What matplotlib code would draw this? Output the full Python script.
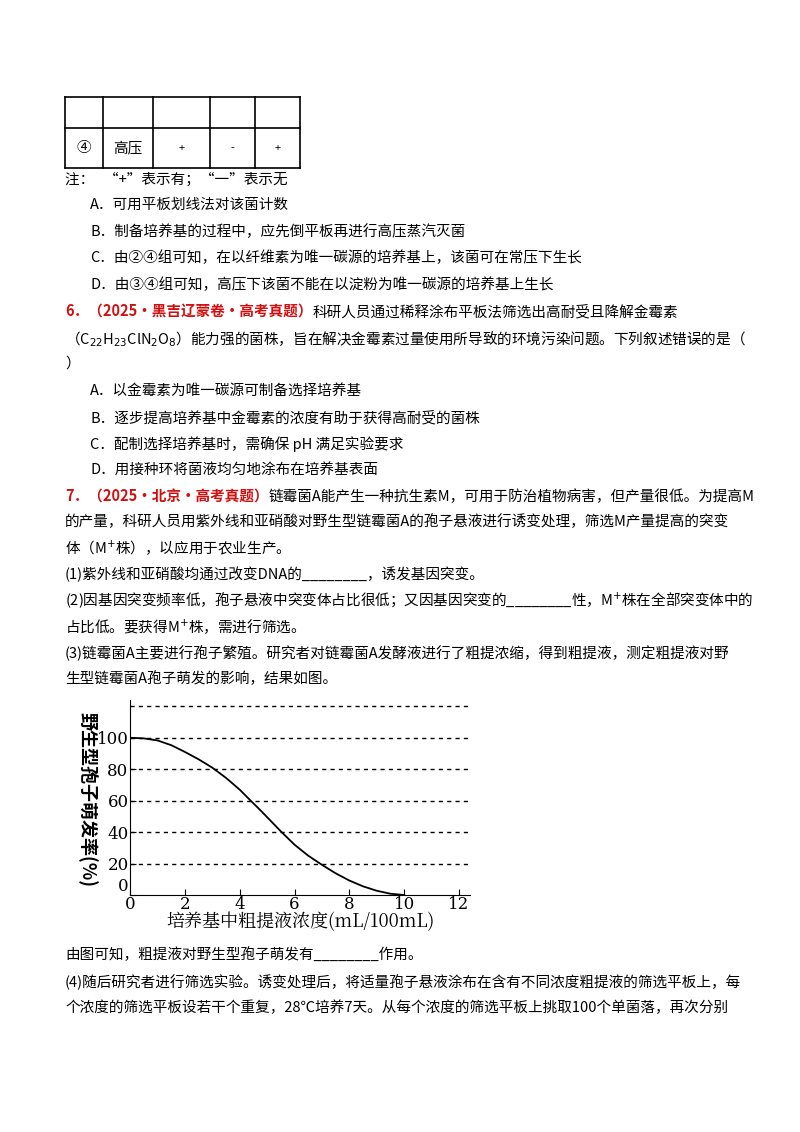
import numpy as np
import matplotlib
matplotlib.use('Agg')
import matplotlib.pyplot as plt

plt.rcParams['font.family'] = ['Noto Sans CJK SC', 'DejaVu Sans']

# chart data
conc = [0, 0.5, 1, 1.5, 2, 2.5, 3, 3.5, 4, 4.4, 4.75, 5, 5.25, 5.5, 6, 6.5, 7, 7.5, 8, 8.5, 9, 9.5, 10]
germ = [100, 99.6, 98.3, 95.3, 91, 86.3, 81, 74.5, 67, 60, 54, 49.5, 45, 40.5, 32, 25, 19.2, 13.8, 9.2, 5.5, 2.7, 0.8, 0]
xticks = [0, 2, 4, 6, 8, 10, 12]
yticks = [0, 20, 40, 60, 80, 100]
grid_y = [20, 40, 60, 80, 100, 120]

table_row = ['④', '高压', '+', '-', '+']

W, H = 800, 1132
fig = plt.figure(figsize=(8, 11.32), dpi=100)
fig.patch.set_facecolor('white')
FS = 10.5

def px(x, y):
    return x / W, 1 - y / H

def put(x, y, s, **kw):
    kw.setdefault('fontsize', FS)
    return fig.text(*px(x, y), s, va='center', ha='left', **kw)

# table
tab = fig.add_axes([0, 0, 1, 1])
tab.set_xlim(0, W); tab.set_ylim(H, 0); tab.axis('off')
cols = [65, 103, 153, 210, 255, 300]
for y in [97, 128, 168]:
    tab.plot([cols[0], cols[-1]], [y, y], color='black', lw=1.2)
for x in cols:
    tab.plot([x, x], [97, 168], color='black', lw=1.2)
for i, s in enumerate(table_row):
    tab.text((cols[i] + cols[i + 1]) / 2, 148, s, ha='center', va='center',
             fontsize=FS if i < 2 else 8)

lines = [
    (65, 180, '注：   “+”表示有；“一”表示无'),
    (90, 205, 'A．可用平板划线法对该菌计数'),
    (90, 232, 'B．制备培养基的过程中，应先倒平板再进行高压蒸汽灭菌'),
    (90, 258, 'C．由②④组可知，在以纤维素为唯一碳源的培养基上，该菌可在常压下生长'),
    (90, 285, 'D．由③④组可知，高压下该菌不能在以淀粉为唯一碳源的培养基上生长'),
    (65, 339, r'（C$_{22}$H$_{23}$ClN$_2$O$_8$）能力强的菌株，旨在解决金霉素过量使用所导致的环境污染问题。下列叙述错误的是（'),
    (65, 364, '）'),
    (90, 391, 'A．以金霉素为唯一碳源可制备选择培养基'),
    (90, 418, 'B．逐步提高培养基中金霉素的浓度有助于获得高耐受的菌株'),
    (90, 444, 'C．配制选择培养基时，需确保 pH 满足实验要求'),
    (90, 470, 'D．用接种环将菌液均匀地涂布在培养基表面'),
    (65, 522, '的产量，科研人员用紫外线和亚硝酸对野生型链霉菌A的孢子悬液进行诱变处理，筛选M产量提高的突变'),
    (65, 548, r'体（M$^{+}$株），以应用于农业生产。'),
    (65, 574, '(1)紫外线和亚硝酸均通过改变DNA的________，诱发基因突变。'),
    (65, 600, r'(2)因基因突变频率低，孢子悬液中突变体占比很低；又因基因突变的________性，M$^{+}$株在全部突变体中的'),
    (65, 627, r'占比低。要获得M$^{+}$株，需进行筛选。'),
    (65, 653, '(3)链霉菌A主要进行孢子繁殖。研究者对链霉菌A发酵液进行了粗提浓缩，得到粗提液，测定粗提液对野'),
    (65, 679, '生型链霉菌A孢子萌发的影响，结果如图。'),
    (65, 955, '由图可知，粗提液对野生型孢子萌发有________作用。'),
    (65, 982, '(4)随后研究者进行筛选实验。诱变处理后，将适量孢子悬液涂布在含有不同浓度粗提液的筛选平板上，每'),
    (65, 1008, '个浓度的筛选平板设若干个重复，28℃培养7天。从每个浓度的筛选平板上挑取100个单菌落，再次分别'),
]
for x, y, s in lines:
    put(x, y, s)

# headings with red prefix
fig.canvas.draw()
r = fig.canvas.get_renderer()
for y, red, rest in [(312, '6．（2025·黑吉辽蒙卷·高考真题）', '科研人员通过稀释涂布平板法筛选出高耐受且降解金霉素'),
                     (497, '7．（2025·北京·高考真题）', '链霉菌A能产生一种抗生素M，可用于防治植物病害，但产量很低。为提高M')]:
    t = put(65, y, red, color='#d01010', fontweight='bold')
    bb = t.get_window_extent(r)
    put(bb.x1 * W / fig.bbox.width, y, rest)

# chart
x0, x1 = 130, 470
y0, y1 = 895, 700
ax = fig.add_axes([x0 / W, 1 - y0 / H, (x1 - x0) / W, (y0 - y1) / H])
ax.plot(conc, germ, color='black', lw=1.3)
for g in grid_y:
    ax.axhline(g, color='black', ls=(0, (3, 3)), lw=1.0)
ax.set_xlim(0, 12.4)
ax.set_ylim(0, 124)
ax.set_xticks(xticks)
ax.set_yticks(yticks)
for s in ['top', 'right']:
    ax.spines[s].set_visible(False)
ax.tick_params(axis='x', direction='in', length=4, labelsize=12, pad=1)
ax.tick_params(axis='y', direction='in', length=4, labelsize=12, pad=1)
for lab in ax.get_xticklabels() + ax.get_yticklabels():
    lab.set_fontfamily(['DejaVu Serif'])
ax.get_yticklabels()[0].set_va('bottom')
ax.set_xlabel('培养基中粗提液浓度(mL/100mL)', fontsize=13, labelpad=-1,
              fontfamily=['Noto Serif CJK SC', 'Noto Sans CJK SC', 'DejaVu Serif'])
fig.text(px(88, 800)[0], px(88, 800)[1], '野生型孢子萌发率(%)', rotation=270,
         fontsize=13, fontweight='bold', ha='center', va='center')

fig.savefig('out.png', dpi=100)
